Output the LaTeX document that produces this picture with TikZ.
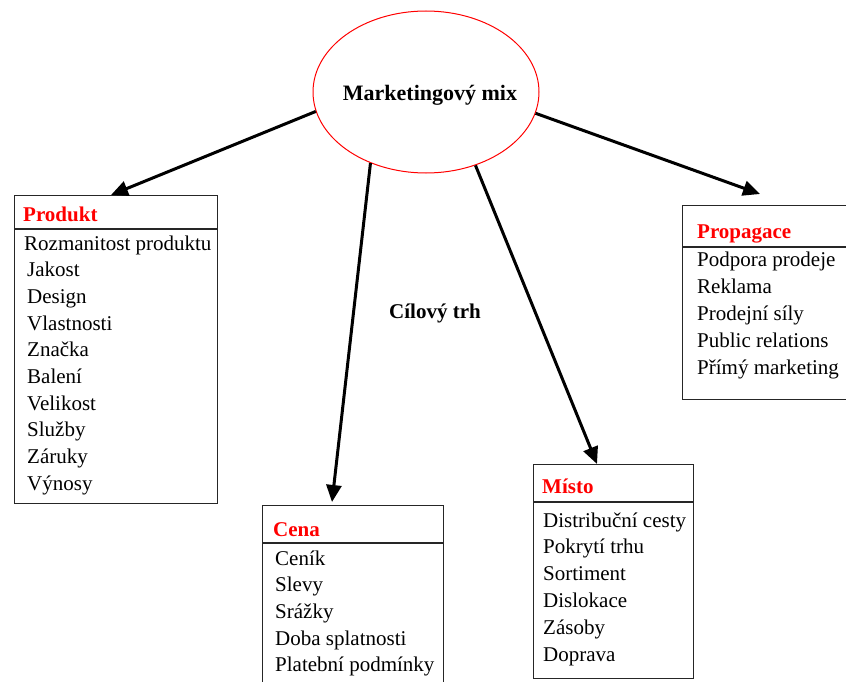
\documentclass[tikz,border=0pt]{standalone}
\usepackage{fontspec}
\setmainfont{Liberation Serif}
\usepackage{xcolor}
\usetikzlibrary{shapes.geometric,arrows.meta}

\tikzset{
	box/.style={draw=black!85, line width=1.3pt, rectangle, anchor=north west, inner sep=0pt},
	rule/.style={draw=black!85, line width=1.3pt},
	title/.style={anchor=base west, inner sep=0pt, text=red, font=\rmfamily\fontsize{21}{25}\selectfont\bfseries},
	item/.style={anchor=base west, inner sep=0pt, font=\rmfamily\fontsize{21}{25}\selectfont},
	head/.style={anchor=base, inner sep=0pt, font=\rmfamily\fontsize{21}{25}\selectfont\bfseries}
}

\begin{document}
\begin{tikzpicture}[x=1pt,y=-1pt]
		\clip (0,0) rectangle (846,682);
		%
		\node[ellipse, draw=red, line width=1pt, minimum width=226pt, minimum height=162pt, inner sep=0pt] (mix) at (426,92) {};
		\node[head, font=\rmfamily\fontsize{22}{26}\selectfont\bfseries] (mixtext) at (430,101) {Marketingový mix};
		\node[head] (trh) at (435,318) {Cílový trh};
		%
		\node[box, minimum width=203pt, minimum height=308pt] (produkt) at (14,195) {};
		\draw[rule] (produkt.west |- 0,229) -- (produkt.east |- 0,229);
		\node[title] (produkt-t) at (23,221) {Produkt};
		\node[item] (produkt-1) at (24,250) {Rozmanitost produktu};
		\node[item] (produkt-2) at (27,276.7) {Jakost};
		\node[item] (produkt-3) at (27,303.3) {Design};
		\node[item] (produkt-4) at (27,330) {Vlastnosti};
		\node[item] (produkt-5) at (27,356.7) {Značka};
		\node[item] (produkt-6) at (27,383.3) {Balení};
		\node[item] (produkt-7) at (27,410) {Velikost};
		\node[item] (produkt-8) at (27,436.7) {Služby};
		\node[item] (produkt-9) at (27,463.3) {Záruky};
		\node[item] (produkt-10) at (27,490) {Výnosy};
		%
		\node[box, minimum width=181pt, minimum height=200pt] (cena) at (262,505) {};
		\draw[rule] (cena.west |- 0,543) -- (cena.east |- 0,543);
		\node[title] (cena-t) at (273,536) {Cena};
		\node[item] (cena-1) at (275,565) {Ceník};
		\node[item] (cena-2) at (275,591.7) {Slevy};
		\node[item] (cena-3) at (275,618.3) {Srážky};
		\node[item] (cena-4) at (275,645) {Doba splatnosti};
		\node[item] (cena-5) at (275,671.7) {Platební podmínky};
		%
		\node[box, minimum width=160pt, minimum height=214pt] (misto) at (533,464) {};
		\draw[rule] (misto.west |- 0,502) -- (misto.east |- 0,502);
		\node[title] (misto-t) at (542,493) {Místo};
		\node[item] (misto-1) at (543,527) {Distribuční cesty};
		\node[item] (misto-2) at (543,553.8) {Pokrytí trhu};
		\node[item] (misto-3) at (543,580.6) {Sortiment};
		\node[item] (misto-4) at (543,607.4) {Dislokace};
		\node[item] (misto-5) at (543,634.2) {Zásoby};
		\node[item] (misto-6) at (543,661) {Doprava};
		%
		\node[box, minimum width=180pt, minimum height=194pt] (propagace) at (682,205) {};
		\draw[rule] (propagace.west |- 0,247) -- (propagace.east |- 0,247);
		\node[title] (propagace-t) at (697,238) {Propagace};
		\node[item] (propagace-1) at (697,266.7) {Podpora prodeje};
		\node[item] (propagace-2) at (697,293.7) {Reklama};
		\node[item] (propagace-3) at (697,320.7) {Prodejní síly};
		\node[item] (propagace-4) at (697,347.7) {Public relations};
		\node[item] (propagace-5) at (697,374.7) {Přímý marketing};
		%
		\coordinate (produkt-in) at (111,195);
		\coordinate (cena-in) at (332,502);
		\coordinate (misto-in) at (597,464);
		\coordinate (propagace-in) at (760,194);
		%
		\path[->, line width=3pt, >={Triangle[length=17pt,width=15pt]}]
		(mix.190.8) edge (produkt-in)
		(mix.232.9) edge (cena-in)
		(mix.304.4) edge (misto-in)
		(mix.349.6) edge (propagace-in);
	\end{tikzpicture}
\end{document}
